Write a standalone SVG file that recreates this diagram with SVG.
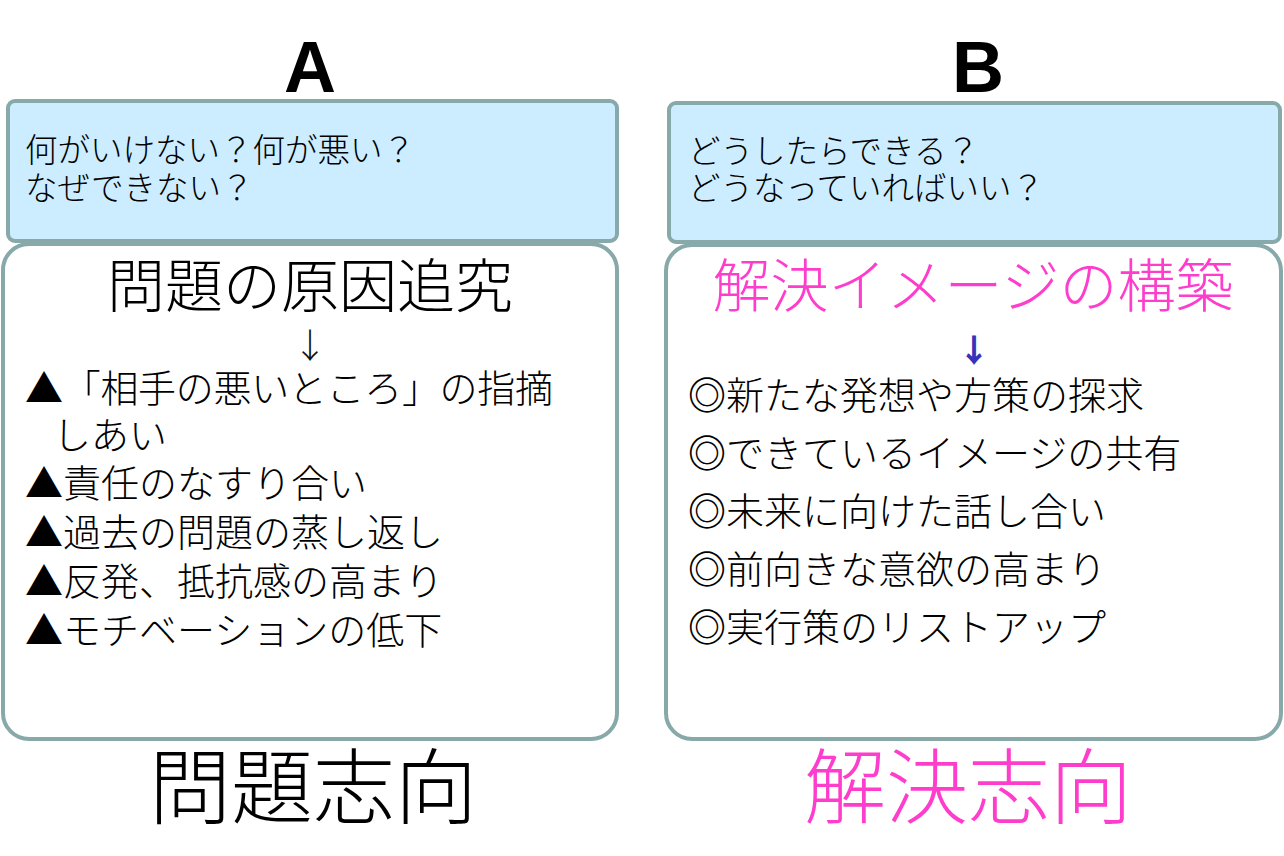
<svg xmlns="http://www.w3.org/2000/svg" width="1284" height="856" viewBox="0 0 1284 856">
<style>
.jp{font-family:"Noto Sans CJK JP","Noto Sans",sans-serif;font-weight:300;}
.q{font-size:32.5px;fill:#000;}
.li{font-size:38px;fill:#000;}
.head{font-size:58px;}
.big{font-size:82px;}
.lt{font-family:"Liberation Sans",Arial,sans-serif;font-weight:bold;font-size:72px;fill:#000;}
.qbox{fill:#CCECFF;stroke:#88A9A9;stroke-width:4;}
.mbox{fill:#FFFFFF;stroke:#88A9A9;stroke-width:4;}
.pink{fill:#FF3DCC;}
.mark{font-weight:700;}
.barrow{font-weight:900;fill:#3333BB;font-size:32px;}
</style>
<rect width="1284" height="856" fill="#FFFFFF"/>
<g id="labelA"><text class="lt" x="310" y="92" text-anchor="middle">A</text></g>
<g id="labelB"><text class="lt" x="978" y="92" text-anchor="middle">B</text></g>

<g id="questionA">
<rect class="qbox" x="8" y="101" width="609" height="140" rx="7"/>
<text class="jp q" x="25" y="162">何がいけない？何が悪い？</text>
<text class="jp q" x="25" y="200">なぜできない？</text>
</g>
<g id="questionB">
<rect class="qbox" x="669" y="103" width="611" height="139" rx="7"/>
<text class="jp q" x="688" y="163">どうしたらできる？</text>
<text class="jp q" x="688" y="200">どうなっていればいい？</text>
</g>

<g id="mainA">
<rect class="mbox" x="3" y="244" width="614" height="495" rx="26"/>
<text class="jp head" x="310" y="307" text-anchor="middle" fill="#000">問題の原因追究</text>
<text class="jp" x="310" y="358" text-anchor="middle" font-size="34" fill="#111">↓</text>
<text class="jp li" x="25" y="402" textLength="528" lengthAdjust="spacing">▲「相手の悪いところ」の指摘</text>
<text class="jp li" x="53" y="449">しあい</text>
<text class="jp li" x="25" y="497">▲責任のなすり合い</text>
<text class="jp li" x="25" y="546">▲過去の問題の蒸し返し</text>
<text class="jp li" x="25" y="595">▲反発、抵抗感の高まり</text>
<text class="jp li" x="25" y="644">▲モチベーションの低下</text>
</g>

<g id="mainB">
<rect class="mbox" x="666" y="245" width="615" height="494" rx="26"/>
<text class="jp head pink" x="973" y="307" text-anchor="middle">解決イメージの構築</text>
<text class="jp barrow" x="974" y="362" text-anchor="middle">↓</text>
<text class="jp li" x="688" y="409"><tspan class="mark">◎</tspan>新たな発想や方策の探求</text>
<text class="jp li" x="688" y="467"><tspan class="mark">◎</tspan>できているイメージの共有</text>
<text class="jp li" x="688" y="525"><tspan class="mark">◎</tspan>未来に向けた話し合い</text>
<text class="jp li" x="688" y="583"><tspan class="mark">◎</tspan>前向きな意欲の高まり</text>
<text class="jp li" x="688" y="641"><tspan class="mark">◎</tspan>実行策のリストアップ</text>
</g>

<g id="footerA"><text class="jp big" x="313" y="817" text-anchor="middle" fill="#000">問題志向</text></g>
<g id="footerB"><text class="jp big pink" x="968" y="817" text-anchor="middle">解決志向</text></g>

<g id="connectors"></g>
</svg>
